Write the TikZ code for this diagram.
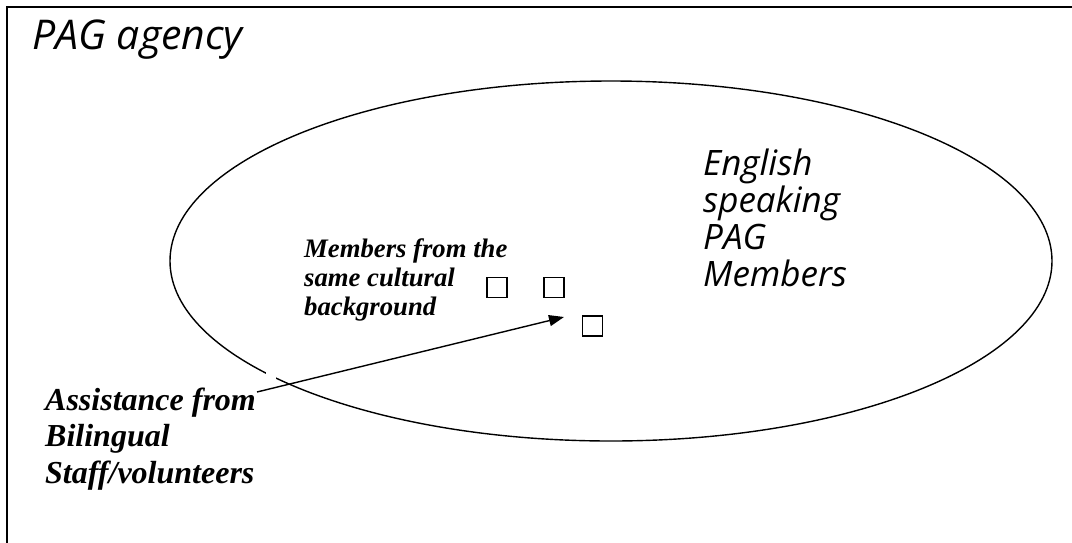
\documentclass[tikz,border=0pt]{standalone}
\usepackage{fontspec}
\setmainfont{Liberation Serif}
\newfontfamily\handfont{Open Sans}
\usetikzlibrary{arrows.meta}
\tikzset{
  hand/.style={anchor=base west, inner sep=0pt, align=left, font=\handfont\itshape},
  serifbi/.style={anchor=base west, inner sep=0pt, align=left, font=\bfseries\itshape},
  member/.style={draw, line width=1.3pt, minimum size=20pt, inner sep=0pt},
  conn/.style={line width=1.4pt, -{Triangle[length=15pt,width=11pt]}}
}
\begin{document}
\begin{tikzpicture}[x=1pt,y=-1pt]
\useasboundingbox (0,0) rectangle (1072,542);
\draw[line width=2pt] (7,7) rectangle (1090,560);
\draw[line width=1.4pt] (611,261) ellipse [x radius=441, y radius=180];
\fill[white] (266,366) rectangle (276,379);
% anchor base = baseline of the last line
\node[hand, font=\handfont\itshape\fontsize{41}{44}\selectfont] (agency) at (32,49) {PAG agency};
\node[hand, font=\handfont\itshape\fontsize{35}{37}\selectfont] (english) at (703,286) {English\\speaking\\PAG\\Members};
\node[serifbi, font=\bfseries\itshape\fontsize{26.7}{29}\selectfont] (same) at (304,315) {Members from the\\same cultural\\background};
\node[serifbi, font=\bfseries\itshape\fontsize{32}{36.5}\selectfont] (assist) at (45,483) {Assistance from\\Bilingual\\Staff/volunteers};
\node[member] (sqa) at (497,287.5) {};
\node[member] (sqb) at (554,287.5) {};
\node[member] (sqc) at (592.5,326) {};
\coordinate (tail) at (257,392);
\coordinate (tip) at (564,317);
\draw[conn] (tail) -- (tip);
\end{tikzpicture}
\end{document}
